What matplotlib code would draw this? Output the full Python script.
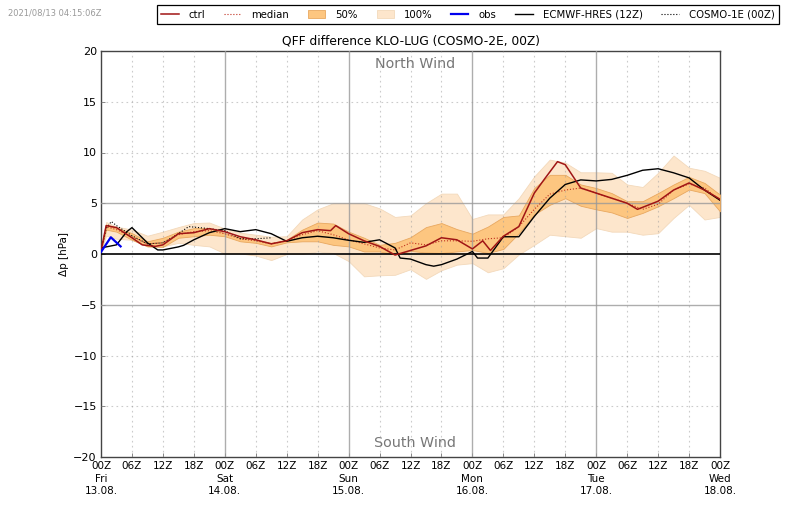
import numpy as np
import matplotlib
matplotlib.use("Agg")
import matplotlib.pyplot as plt
from matplotlib.patches import Patch
from matplotlib.lines import Line2D

# data, hours since Fri 13.08. 00Z
hours = [0, 1, 3, 6, 9, 12, 15, 18, 21, 24, 27, 30, 33, 36, 39, 42, 45, 48, 51, 54, 57, 60,
         63, 66, 69, 72, 75, 78, 81, 84, 87, 90, 93, 96, 99, 102, 105, 108, 111, 114, 117, 120]

upper_100 = [0.3, 3.15, 2.7, 2.4, 1.8, 2.2, 2.65, 3.05, 3.1, 2.5, 2.1, 1.9, 1.7, 1.75, 3.4, 4.4, 5.0, 5.0, 5.0, 4.5, 3.65, 3.8,
             5.0, 5.95, 5.95, 3.45, 3.9, 3.9, 5.5, 7.65, 9.3, 9.0, 8.05, 8.05, 8.0, 6.85, 6.6, 8.0, 9.7, 8.5, 8.2, 7.5]
lower_100 = [0.3, 1.8, 1.5, 1.4, 0.75, 0.75, 1.1, 0.9, 0.75, 0.05, 0.05, -0.15, -0.6, 0.0, 0.0, 0.25, 0.1, -0.7, -2.2, -2.1, -2.05, -1.5,
             -2.45, -1.6, -1.05, -0.9, -1.8, -1.4, -0.05, 0.9, 1.9, 1.75, 1.6, 2.55, 2.2, 2.2, 1.9, 2.05, 3.55, 4.85, 3.4, 3.65]
upper_50 = [0.3, 2.9, 2.6, 2.05, 1.25, 1.6, 2.2, 2.55, 2.55, 2.05, 1.6, 1.4, 1.1, 1.4, 2.4, 3.1, 3.0, 2.2, 1.6, 0.9, 1.1, 1.65,
            2.65, 3.05, 2.45, 2.0, 2.7, 3.65, 3.8, 6.5, 7.8, 7.8, 6.85, 6.5, 6.0, 5.2, 5.2, 6.0, 6.85, 7.6, 7.0, 5.85]
lower_50 = [0.3, 2.4, 2.2, 1.4, 0.75, 0.7, 1.6, 1.75, 1.9, 1.75, 1.25, 1.1, 0.75, 1.15, 1.25, 1.25, 0.9, 0.75, 0.25, 0.25, -0.05, 0.3,
            0.15, 0.1, 0.25, 0.4, 0.1, 0.5, 2.05, 3.9, 4.85, 5.5, 4.75, 4.4, 4.1, 3.55, 4.05, 4.7, 5.5, 6.35, 6.0, 4.2]
median = [0.3, 2.7, 2.4, 1.7, 1.0, 1.1, 1.9, 2.2, 2.3, 2.0, 1.5, 1.3, 1.0, 1.3, 1.9, 2.3, 1.9, 1.4, 1.0, 0.6, 0.4, 1.1,
          0.9, 1.3, 1.3, 1.25, 1.5, 1.6, 2.7, 4.4, 5.9, 6.3, 6.5, 6.0, 5.5, 5.0, 4.4, 4.9, 6.3, 6.9, 6.5, 5.3]

ctrl_hours = [0, 1, 3, 6, 8, 10.5, 12, 15, 18, 21, 24, 27, 30, 33, 36, 39, 42, 44.5, 45.5, 48, 51, 54, 57, 60,
              63, 66, 69, 72, 74, 75.5, 78, 81, 84, 86, 88.5, 90, 93, 96, 99, 102, 104, 108, 111, 114, 117, 120]
ctrl = [0.3, 2.8, 2.6, 1.6, 0.9, 0.75, 0.9, 2.0, 2.1, 2.5, 2.2, 1.7, 1.4, 1.0, 1.3, 2.1, 2.4, 2.3, 2.8, 2.0, 1.3, 0.75, -0.1, 0.35,
        0.8, 1.6, 1.4, 0.5, 1.3, 0.35, 1.75, 2.7, 6.0, 7.4, 9.1, 8.8, 6.5, 6.0, 5.5, 5.0, 4.4, 5.2, 6.3, 7.0, 6.3, 5.4]

ecmwf_hours = [0, 3, 5, 6, 9, 11, 12, 15, 16, 18, 21, 24, 27, 30, 33, 36, 39, 42, 45, 48, 51, 54, 57, 58, 60,
               63, 64.5, 66, 69, 72, 73, 75, 78, 81, 84, 87, 90, 93, 96, 99, 102, 105, 108, 111, 114, 117, 120]
ecmwf = [0.6, 0.9, 2.2, 2.6, 1.1, 0.4, 0.4, 0.7, 0.85, 1.4, 2.1, 2.5, 2.2, 2.4, 2.0, 1.25, 1.6, 1.75, 1.6, 1.35, 1.15, 1.4, 0.6, -0.4, -0.5,
         -1.05, -1.2, -1.05, -0.5, 0.25, -0.4, -0.4, 1.7, 1.7, 3.7, 5.5, 6.85, 7.3, 7.2, 7.35, 7.75, 8.25, 8.4, 8.0, 7.5, 6.3, 5.3]

cosmo1_hours = [0, 1, 2, 3, 6, 9, 12, 15, 17, 21, 24, 27, 30, 33]
cosmo1 = [0.3, 2.5, 3.2, 2.8, 1.8, 1.0, 1.1, 2.0, 2.7, 2.5, 2.3, 1.5, 1.5, 1.6]

obs_hours = [0, 1.9, 3.8]
obs = [0.2, 1.65, 0.75]

days = ["Fri\n13.08.", "Sat\n14.08.", "Sun\n15.08.", "Mon\n16.08.", "Tue\n17.08.", "Wed\n18.08."]

COL_50 = "#fdc680"
COL_100 = "#fde6cc"
COL_RED = "#a01515"
GRID = "#999999"

fig = plt.figure(figsize=(8, 5.09), dpi=100)
ax = fig.add_axes([101 / 800, 1 - 457 / 509, 619 / 800, 406 / 509])

ax.fill_between(hours, lower_100, upper_100, color=COL_100, edgecolor="#f3d9bb", lw=0.6, zorder=2)
ax.fill_between(hours, lower_50, upper_50, color=COL_50, edgecolor="#e8a860", lw=0.6, zorder=3)
ax.plot(hours, median, color="#c03020", lw=0.8, ls=":", zorder=5)
ax.plot(ecmwf_hours, ecmwf, color="k", lw=1.0, zorder=6)
ax.plot(cosmo1_hours, cosmo1, color="k", lw=0.8, ls=":", zorder=6)
ax.plot(ctrl_hours, ctrl, color=COL_RED, lw=1.1, zorder=7)
ax.plot(obs_hours, obs, color="#0000ee", lw=1.6, zorder=8)
ax.axhline(0, color="k", lw=1.2, zorder=6)

ax.set_xlim(0, 120)
ax.set_ylim(-20, 20)
ax.set_yticks(np.arange(-20, 21, 5))
ax.set_yticklabels([("\u2212%d" % abs(v)) if v < 0 else str(v) for v in range(-20, 21, 5)], fontsize=8)

xt = np.arange(0, 121, 6)
labels = []
for h in xt:
    s = "%02dZ" % (h % 24)
    if h % 24 == 0:
        s += "\n" + days[h // 24]
    labels.append(s)
ax.set_xticks(xt)
ax.set_xticklabels(labels, fontsize=7.5, linespacing=1.3)
ax.tick_params(axis="both", direction="in", length=3, width=0.5, color="#555555", pad=3)

# grid: solid at days and +-5, dotted elsewhere, both showing through the bands
for h in xt[1:-1]:
    if h % 24 == 0:
        ax.axvline(h, color=GRID, alpha=0.8, lw=1.0, zorder=4)
    else:
        ax.axvline(h, color=GRID, alpha=0.5, lw=0.8, ls=(0, (1.5, 3)), zorder=4)
for v in [-15, -10, 10, 15]:
    ax.axhline(v, color=GRID, alpha=0.5, lw=0.8, ls=(0, (1.5, 3)), zorder=4)
for v in [-5, 5]:
    ax.axhline(v, color=GRID, alpha=0.8, lw=1.0, zorder=4)

for s in ax.spines.values():
    s.set_linewidth(1.0)
    s.set_color("#444444")

ax.set_ylabel("\u0394p [hPa]", fontsize=7.5, labelpad=3)
ax.set_title("QFF difference KLO-LUG (COSMO-2E, 00Z)", fontsize=8.8, pad=5)
ax.text(0.507, 0.967, "North Wind", transform=ax.transAxes, ha="center", va="center", fontsize=10.3, color="#777777")
ax.text(0.507, 0.034, "South Wind", transform=ax.transAxes, ha="center", va="center", fontsize=10.3, color="#777777")
fig.text(8 / 800, 1 - 13 / 509, "2021/08/13 04:15:06Z", fontsize=6, color="#999999", va="center")

handles = [
    Line2D([], [], color=COL_RED, lw=1.1),
    Line2D([], [], color="#c03020", lw=0.8, ls=":"),
    Patch(facecolor=COL_50, edgecolor="#e8a860", lw=0.6),
    Patch(facecolor=COL_100, edgecolor="#f3d9bb", lw=0.6),
    Line2D([], [], color="#0000ee", lw=1.6),
    Line2D([], [], color="k", lw=1.0),
    Line2D([], [], color="k", lw=0.8, ls=":"),
]
names = ["ctrl", "median", "50%", "100%", "obs", "ECMWF-HRES (12Z)", "COSMO-1E (00Z)"]
leg = fig.legend(handles, names, ncol=7, loc="center", bbox_to_anchor=(468 / 800, 1 - 14.5 / 509),
                 fontsize=7.3, frameon=True, fancybox=False, edgecolor="k", framealpha=1,
                 handlelength=1.7, columnspacing=1.85, handletextpad=1.0, borderpad=0.45)
leg.get_frame().set_linewidth(0.9)

fig.savefig("out.png", dpi=100)
